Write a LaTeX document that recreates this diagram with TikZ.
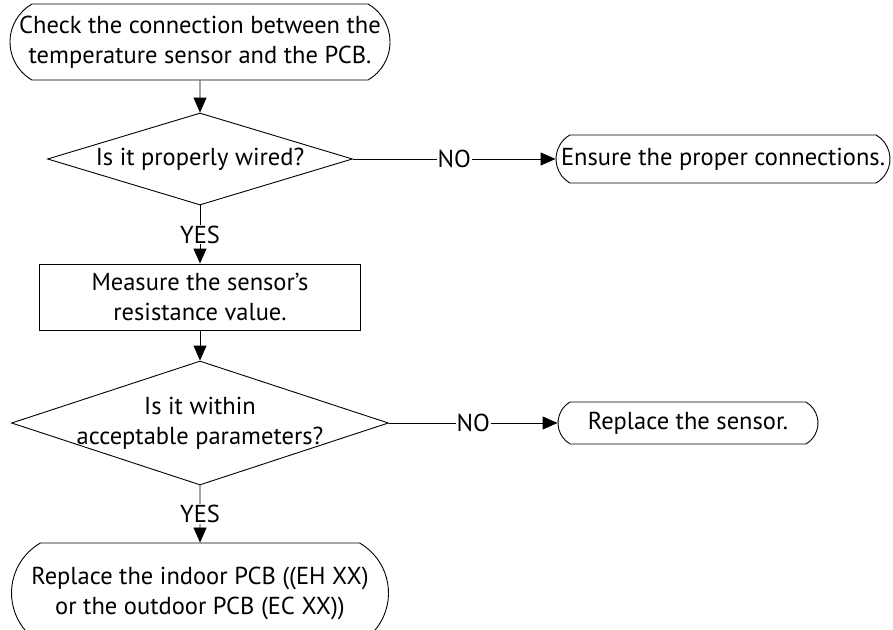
\documentclass[tikz,border=0pt]{standalone}
\usepackage{fontspec}
\setmainfont{PT Sans}
\usetikzlibrary{shapes.geometric}
\usetikzlibrary{shapes.misc}
\usetikzlibrary{arrows.meta}
\tikzstyle{terminal}=[draw, rounded rectangle, rounded rectangle arc length=120, inner sep=0pt, align=center, line width=0.9pt]
\tikzstyle{process}=[draw, rectangle, inner sep=0pt, align=center, line width=0.9pt]
\tikzstyle{decision}=[draw, diamond, inner sep=0pt, line width=0.9pt]
\tikzstyle{flow}=[line width=0.9pt, -{Triangle[length=15pt, width=13pt]}]
\tikzstyle{answer}=[fill=white, inner sep=1pt]

\begin{document}
\begin{tikzpicture}[x=1pt, y=-1pt, font=\fontsize{24.5}{30}\selectfont]
  \useasboundingbox (0, 0) rectangle (893, 629);

  \node[terminal, minimum width=380, minimum height=76] (start) at (200, 42)
    {Check the connection between the\\temperature sensor and the PCB.};
  \node[decision, minimum width=305, minimum height=92,
    label={center:Is it properly wired?}] (wired) at (200, 159) {};
  \node[terminal, minimum width=334, minimum height=48] (connect) at (723, 159)
    {Ensure the proper connections.};
  \node[process, minimum width=321, minimum height=66] (measure) at (200, 297)
    {Measure the sensor’s\\resistance value.};
  \node[decision, minimum width=377, minimum height=124,
    label={[align=center]center:Is it within\\acceptable parameters?}] (within) at (200, 423) {};
  \node[terminal, minimum width=260, minimum height=42] (sensor) at (688, 423)
    {Replace the sensor.};
  \node[terminal, minimum width=377, minimum height=100] (pcb) at (200, 593)
    {Replace the indoor PCB ((EH XX)\\or the outdoor PCB (EC XX))};

  \draw[flow] (start) -- (wired);
  \draw[flow] (wired) -- node[answer] {NO} (connect);
  \draw[flow] (wired) -- node[answer] {YES} (measure);
  \draw[flow] (measure) -- (within);
  \draw[flow] (within) -- node[answer] {NO} (sensor);
  \draw[flow] (within) -- node[answer] {YES} (pcb);
\end{tikzpicture}
\end{document}
